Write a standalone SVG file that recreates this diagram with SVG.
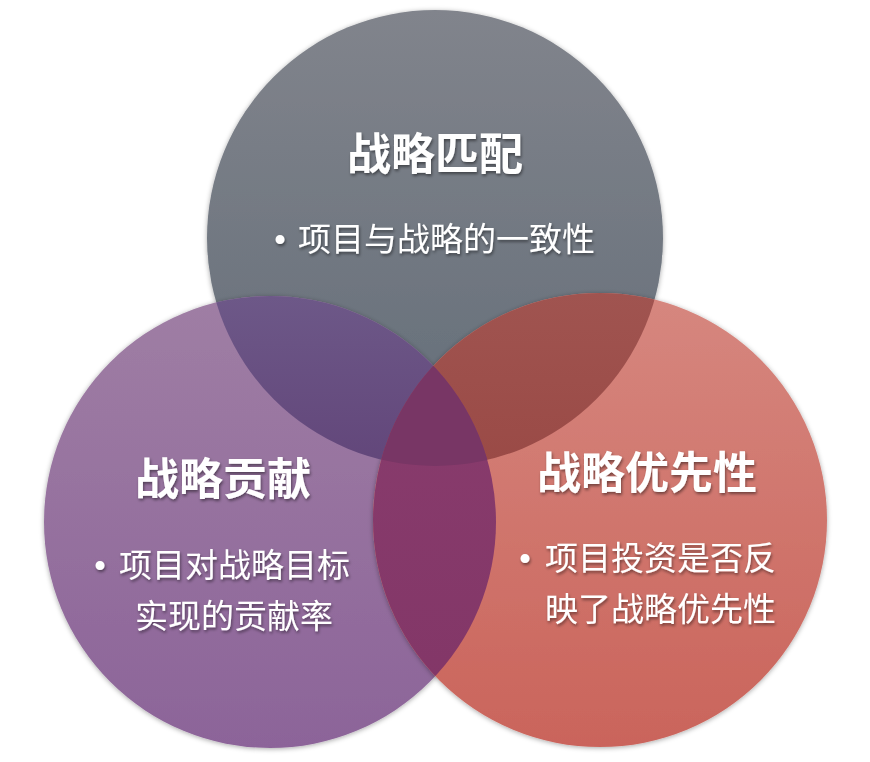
<svg xmlns="http://www.w3.org/2000/svg" width="870" height="762" viewBox="0 0 870 762">
  <style>
    .title { font-family: "Noto Sans CJK SC", "Liberation Sans", sans-serif; font-size: 44px; font-weight: bold; fill: #ffffff; text-anchor: middle; }
    .body { font-family: "Noto Sans CJK SC", "Liberation Sans", sans-serif; font-size: 33px; fill: #ffffff; }
    .bullet { font-family: "Liberation Sans", sans-serif; font-size: 33px; fill: #ffffff; text-anchor: middle; }
    .txt { filter: url(#tshadow); }
  </style>
  <defs>
    <linearGradient id="gT" x1="0" y1="0" x2="0" y2="1">
      <stop offset="0" stop-color="#81848c"/>
      <stop offset="1" stop-color="#636d78"/>
    </linearGradient>
    <linearGradient id="gL" x1="0" y1="0" x2="0" y2="1">
      <stop offset="0" stop-color="#9f7ea4"/>
      <stop offset="1" stop-color="#8c6499"/>
    </linearGradient>
    <linearGradient id="gR" x1="0" y1="0" x2="0" y2="1">
      <stop offset="0" stop-color="#d6877f"/>
      <stop offset="1" stop-color="#ca645b"/>
    </linearGradient>
    <linearGradient id="gTL" gradientUnits="userSpaceOnUse" x1="0" y1="296" x2="0" y2="466">
      <stop offset="0" stop-color="#6d5888"/>
      <stop offset="1" stop-color="#62467a"/>
    </linearGradient>
    <linearGradient id="gTR" gradientUnits="userSpaceOnUse" x1="0" y1="293" x2="0" y2="466">
      <stop offset="0" stop-color="#a05450"/>
      <stop offset="1" stop-color="#9a4a46"/>
    </linearGradient>
    <linearGradient id="gLR" gradientUnits="userSpaceOnUse" x1="0" y1="300" x2="0" y2="720">
      <stop offset="0" stop-color="#8a3d6e"/>
      <stop offset="1" stop-color="#823667"/>
    </linearGradient>
    <clipPath id="cT"><circle cx="435" cy="238" r="228"/></clipPath>
    <clipPath id="cL"><circle cx="270" cy="522" r="226"/></clipPath>
    <filter id="shadow" x="-10%" y="-10%" width="120%" height="120%">
      <feDropShadow dx="0" dy="1" stdDeviation="2.5" flood-color="#000000" flood-opacity="0.35"/>
    </filter>
    <filter id="tshadow" x="-10%" y="-20%" width="120%" height="140%">
      <feDropShadow dx="1" dy="2" stdDeviation="1.5" flood-color="#000000" flood-opacity="0.45"/>
    </filter>
  </defs>

  <rect width="870" height="762" fill="#ffffff"/>

  <g id="node-strategic-match">
    <circle cx="435" cy="238" r="228" fill="url(#gT)" filter="url(#shadow)"/>
  </g>
  <g id="node-strategic-contribution">
    <circle cx="270" cy="522" r="226" fill="url(#gL)" filter="url(#shadow)"/>
  </g>
  <g id="node-strategic-priority">
    <circle cx="600" cy="520" r="227" fill="url(#gR)" filter="url(#shadow)"/>
  </g>

  <g id="overlaps">
    <circle cx="270" cy="522" r="226" fill="url(#gTL)" clip-path="url(#cT)"/>
    <circle cx="600" cy="520" r="227" fill="url(#gTR)" clip-path="url(#cT)"/>
    <circle cx="600" cy="520" r="227" fill="url(#gLR)" clip-path="url(#cL)"/>
    <g clip-path="url(#cL)">
      <circle cx="600" cy="520" r="227" fill="#783665" clip-path="url(#cT)"/>
    </g>
  </g>

  <g id="labels">
    <g id="label-strategic-match" class="txt">
      <text class="title" x="435" y="170">战略匹配</text>
      <text class="bullet" x="280" y="251">•</text>
      <text class="body" x="298" y="251">项目与战略的一致性</text>
    </g>
    <g id="label-strategic-contribution" class="txt">
      <text class="title" x="223" y="495">战略贡献</text>
      <text class="bullet" x="100" y="577">•</text>
      <text class="body" x="119" y="577">项目对战略目标</text>
      <text class="body" x="135" y="628">实现的贡献率</text>
    </g>
    <g id="label-strategic-priority" class="txt">
      <text class="title" x="647" y="489">战略优先性</text>
      <text class="bullet" x="525" y="570">•</text>
      <text class="body" x="545" y="570">项目投资是否反</text>
      <text class="body" x="545" y="621">映了战略优先性</text>
    </g>
  </g>
</svg>
